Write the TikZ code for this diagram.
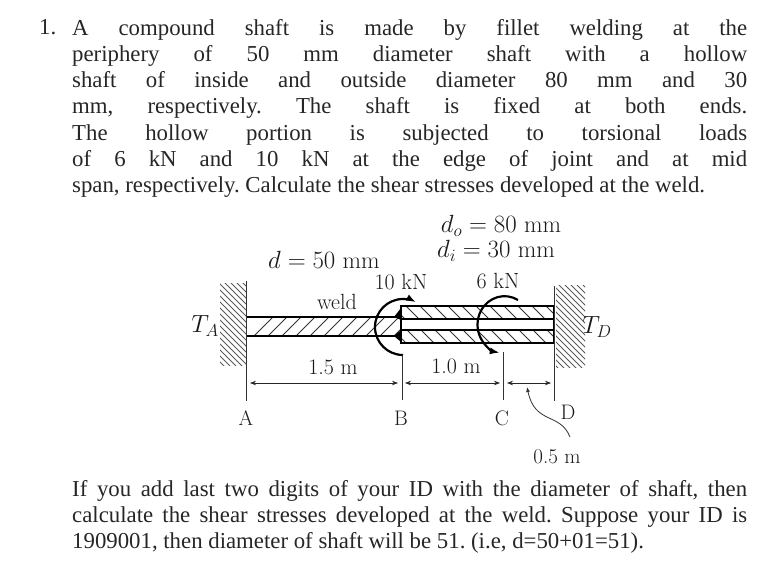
\documentclass[tikz,border=0pt]{standalone}
\usepackage{fontspec}
\newfontfamily\probfont{Liberation Serif}
\usepackage{tikz}
\usetikzlibrary{arrows.meta}
\tikzset{
  para/.style={anchor=north west, inner sep=0pt, text width=675pt, align=justify, text=black!85, font=\probfont\frenchspacing\fontsize{22.8}{26.2}\selectfont},
  lbl/.style={inner sep=0pt, text=black!90, font=\fontsize{24}{26}\selectfont},
  midlbl/.style={lbl, font=\fontsize{22}{24}\selectfont},
  smalllbl/.style={lbl, font=\fontsize{21}{24}\selectfont},
  dimline/.style={{Stealth[length=6pt,width=4.5pt]}-{Stealth[length=6pt,width=4.5pt]}, line width=0.7pt, black!85},
  extline/.style={line width=0.9pt, black!80},
  torque/.style={line width=2.2pt, -{Latex[length=10pt,width=7pt]}},
  hatchline/.style={line width=0.8pt, black!80},
  wallline/.style={line width=0.9pt, black!65}
}
\begin{document}
\begin{tikzpicture}[x=1pt,y=-1pt]
  \useasboundingbox (0,0) rectangle (766,567);

  % problem text
  \node [anchor=north west, inner sep=0pt, text=black!85, font=\probfont\fontsize{22.8}{26.2}\selectfont] (num) at (39,19) {1.};
  \node [para] (problem) at (72,19) {A compound shaft is made by fillet welding at the\linebreak
    periphery of 50 mm diameter shaft with a hollow\linebreak
    shaft of inside and outside diameter 80 mm and 30\linebreak
    mm, respectively. The shaft is fixed at both ends.\linebreak
    The hollow portion is subjected to torsional loads\linebreak
    of 6 kN and 10 kN at the edge of joint and at mid\linebreak
    span, respectively. Calculate the shear stresses developed at the weld.};
  \node [para] (task) at (72,480) {If you add last two digits of your ID with the diameter of shaft, then\linebreak
    calculate the shear stresses developed at the weld. Suppose your ID is\linebreak
    1909001, then diameter of shaft will be 51. (i.e, d=50+01=51).};

  % walls
  \begin{scope}
    \clip (220,283) rectangle (246,365);
    \foreach \h in {100,106,...,250} \draw [wallline] (\h,260) -- (\h+130,390);
  \end{scope}
  \begin{scope}
    \clip (556,285) rectangle (585,367);
    \foreach \h in {420,426,...,590} \draw [wallline] (\h,260) -- (\h+130,390);
  \end{scope}

  % solid shaft
  \begin{scope}
    \clip (247,317) rectangle (400,336);
    \foreach \h in {250,264,...,420} \draw [hatchline] (\h,340) -- (\h+26,314);
  \end{scope}
  \draw [line width=1.8pt] (247,317) -- (400,317);
  \draw [line width=1.8pt] (247,336) -- (400,336);

  % hollow shaft
  \begin{scope}
    \clip (401,307) rectangle (554,319);
    \foreach \h in {390,404,...,560} \draw [hatchline] (\h,304) -- (\h+18,322);
  \end{scope}
  \begin{scope}
    \clip (401,330) rectangle (554,343);
    \foreach \h in {390,404,...,560} \draw [hatchline] (\h,327) -- (\h+18,345);
  \end{scope}
  \draw [line width=1.6pt] (401,306) rectangle (554,343);
  \draw [line width=1.6pt] (401,319) -- (554,319);
  \draw [line width=1.6pt] (401,330) -- (554,330);

  % weld
  \fill (401,308) -- (401,320) -- (394,317) -- cycle;
  \fill (401,330) -- (401,342) -- (394,336) -- cycle;

  % torques
  \draw [torque] (403,355) arc [start angle=90, end angle=298, x radius=28, y radius=28];
  \draw [torque] (518,300) arc [start angle=300, end angle=100, x radius=27, y radius=28.5];

  % end lines
  \coordinate (Atop) at (246,281);
  \coordinate (Abot) at (246,401);
  \coordinate (Btop) at (402,355);
  \coordinate (Bbot) at (402,400);
  \coordinate (Ctop) at (503,352);
  \coordinate (Cbot) at (503,400);
  \coordinate (Dtop) at (554,286);
  \coordinate (Dbot) at (554,401);
  \draw [extline] (Atop) -- (Abot);
  \draw [extline] (Btop) -- (Bbot);
  \draw [extline] (Ctop) -- (Cbot);
  \draw [extline] (Dtop) -- (Dbot);

  % dimensions
  \coordinate (dimA) at (250,383);
  \coordinate (dimBl) at (398,383);
  \coordinate (dimBr) at (405,383);
  \coordinate (dimCl) at (500,383);
  \coordinate (dimCr) at (507,383);
  \coordinate (dimD) at (551,383);
  \draw [dimline] (dimA) -- (dimBl);
  \draw [dimline] (dimBr) -- (dimCl);
  \draw [dimline] (dimCr) -- (dimD);
  \coordinate (leadtip) at (527,387);
  \coordinate (leadend) at (570,437);
  \draw [line width=0.8pt, black!80, -{Latex[length=5pt,width=4pt]}] (leadend) .. controls (560,412) and (535,425) .. (leadtip);

  % labels
  \node [lbl] (dolabel) at (501,226) {$d_o=80$ mm};
  \node [lbl] (dilabel) at (496,251) {$d_i=30$ mm};
  \node [lbl] (dlabel) at (324,260) {$d=50$ mm};
  \node [midlbl] (tenkn) at (401,282) {10 kN};
  \node [midlbl] (sixkn) at (498,281) {6 kN};
  \node [midlbl] (weld) at (337,302) {weld};
  \node [lbl] (ta) at (205,326) {$T_A$};
  \node [lbl] (td) at (597,327) {$T_D$};
  \node [midlbl] (lenab) at (333,367) {1.5 m};
  \node [midlbl] (lenbc) at (456,366) {1.0 m};
  \node [smalllbl] (ptA) at (246,418) {A};
  \node [smalllbl] (ptB) at (401,418) {B};
  \node [smalllbl] (ptC) at (502,418) {C};
  \node [smalllbl] (ptD) at (568,412) {D};
  \node [smalllbl] (lencd) at (557,457) {0.5 m};
\end{tikzpicture}
\end{document}
